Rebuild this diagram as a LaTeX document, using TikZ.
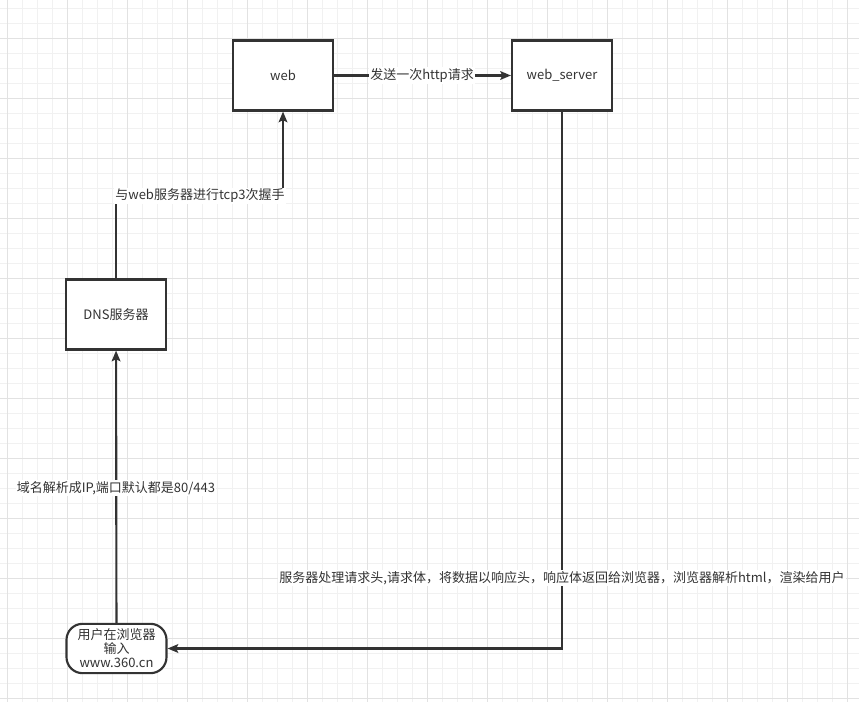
\documentclass[tikz,border=0pt]{standalone}
\usepackage{fontspec}
\setmainfont{Noto Sans CJK SC}
\usetikzlibrary{arrows.meta}
\definecolor{ink}{HTML}{333333}
\definecolor{gminor}{HTML}{F1F1F1}
\definecolor{gmajor}{HTML}{E2E2E2}
\tikzset{
  box/.style={draw=ink, line width=1.6pt, fill=white, minimum width=75pt, minimum height=52.5pt, inner sep=0pt, text=ink, font=\fontsize{9.75pt}{11.5pt}\selectfont},
  userbox/.style={box, minimum height=37pt, rounded corners=12pt, align=center, font=\fontsize{9.75pt}{10.5pt}\selectfont},
  conn/.style={draw=ink, line width=1.6pt, -{Stealth[length=8pt,width=6.5pt,inset=1.5pt]}},
  lbl/.style={fill=white, inner sep=1pt, text=ink, font=\fontsize{9.75pt}{11.5pt}\selectfont},
}
\begin{document}
\begin{tikzpicture}[x=0.75pt,y=-0.75pt]
\useasboundingbox (0,0) rectangle (859,702);
\fill[white] (0,0) rectangle (859,702);
\foreach \gx in {7,22,...,859} \draw[gminor, line width=0.6pt] (\gx,0) -- (\gx,702);
\foreach \gy in {8,23,...,702} \draw[gminor, line width=0.6pt] (0,\gy) -- (859,\gy);
\foreach \gx in {7,67,...,859} \draw[gmajor, line width=0.7pt] (\gx,0) -- (\gx,702);
\foreach \gy in {38,98,...,702} \draw[gmajor, line width=0.7pt] (0,\gy) -- (859,\gy);

\node[box] (web) at (283,75.5) {web};
\node[box] (server) at (562,75.5) {web\_server};
\node[box] (dns) at (116,314.5) {DNS服务器};
\node[userbox] (user) at (116.5,648.5) {用户在浏览器\\输入\\www.360.cn};

\coordinate (b1) at (116,196);
\draw[conn] (user) -- (dns);
\draw[conn] (dns.north) -- (b1) -| (web.south);
\draw[conn] (web) -- (server);
\draw[conn] (server.south) |- (user.east);

\node[lbl] (l1) at (422,75.5) {发送一次http请求};
\node[lbl] (l2) at (200,196) {与web服务器进行tcp3次握手};
\node[lbl] (l3) at (116,488) {域名解析成IP,端口默认都是80/443};
\node[lbl] (l4) at (562,578) {服务器处理请求头,请求体，将数据以响应头，响应体返回给浏览器，浏览器解析html，渲染给用户};
\end{tikzpicture}
\end{document}
